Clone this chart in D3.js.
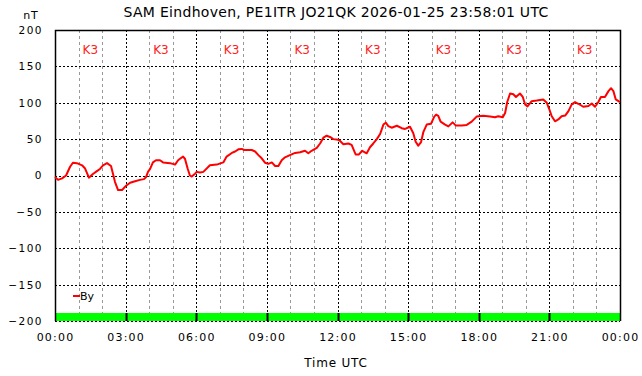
<!DOCTYPE html>
<html>
<head>
<meta charset="utf-8">
<script src="https://cdn.jsdelivr.net/npm/d3@7"></script>
<style>
  body { margin: 0; background: #fff; }
  text { font-family: "DejaVu Sans", sans-serif; }
</style>
</head>
<body>
<div id="chart-area"></div>
<script>
// Data: time in hours UTC, By in nT
const hours = [0, 0.13, 0.30, 0.47, 0.64, 0.76, 0.93, 1.15, 1.27, 1.44, 1.61, 1.78, 1.91, 2.04, 2.21, 2.38,
    2.55, 2.68, 2.85, 3.02, 3.19, 3.40, 3.61, 3.78, 3.87, 3.95, 4.04, 4.16, 4.29, 4.46, 4.59, 4.89,
    5.10, 5.23, 5.31, 5.44, 5.52, 5.64, 5.73, 5.81, 5.95, 6.02, 6.16, 6.30, 6.58, 6.87, 7.15, 7.29,
    7.51, 7.65, 7.79, 7.93, 8.04, 8.14, 8.36, 8.50, 8.64, 8.78, 8.92, 9.06, 9.21, 9.35, 9.49, 9.63,
    9.77, 9.98, 10.20, 10.41, 10.62, 10.76, 10.90, 11.12, 11.26, 11.40, 11.54, 11.68, 11.82, 12.03,
    12.11, 12.25, 12.46, 12.60, 12.77, 12.91, 13.05, 13.24, 13.38, 13.52, 13.67, 13.81, 13.95, 14.05,
    14.16, 14.30, 14.52, 14.73, 14.87, 15.08, 15.22, 15.32, 15.43, 15.55, 15.65, 15.79, 15.97, 16.11,
    16.19, 16.28, 16.38, 16.57, 16.71, 16.89, 17.03, 17.28, 17.49, 17.70, 17.91, 18.19, 18.48, 18.69,
    18.83, 19.02, 19.12, 19.21, 19.33, 19.47, 19.58, 19.75, 19.87, 19.97, 20.07, 20.25, 20.46, 20.74,
    20.89, 20.99, 21.10, 21.24, 21.38, 21.52, 21.67, 21.81, 21.95, 22.09, 22.23, 22.44, 22.66, 22.80,
    22.94, 23.08, 23.19, 23.36, 23.51, 23.62, 23.72, 23.82, 24.00];
const byValues = [-2, -6, -4, 0, 12, 17.5, 17, 14, 10, -3, 2, 6, 9, 14, 17, 13,
    -9, -20, -20, -14, -10, -8, -6, -5, -2, 5, 9, 18, 21, 21, 18, 17,
    15, 21, 23, 26, 23, 9, 0, -1.5, 2.5, 5, 4, 5, 14, 15, 18, 26,
    31, 33, 36, 36.5, 35, 35, 35, 33, 28, 23.6, 17.6, 16, 18, 13, 13, 21,
    25, 28, 31, 32, 34, 30.5, 34, 38, 44, 52, 54.7, 53, 50, 49,
    47.5, 43, 44, 42, 29, 29, 34, 30.5, 38.8, 44, 50, 57, 70, 72.6,
    68, 65.7, 68.4, 65, 64, 67, 58, 46.4, 41, 46, 60, 70, 71, 81,
    83.7, 82, 74, 70, 67.5, 73, 68.6, 68.6, 69.5, 74, 81, 82, 81, 80,
    81.5, 80, 86, 101, 112.7, 111.6, 108, 112.7, 108, 97.6, 95, 102.2, 103, 104.5,
    100, 91.7, 81.5, 74.5, 77, 81.5, 82.4, 88.5, 97.7, 100.9, 98.6, 94.5, 95.5, 99,
    94.5, 101, 108, 108, 116, 120, 116, 104.5, 101];

// K index per 3-hour period
const periodStarts = [0, 3, 6, 9, 12, 15, 18, 21];
const kIndex = [3, 3, 3, 3, 3, 3, 3, 3];

const xTicks = [0, 3, 6, 9, 12, 15, 18, 21, 24];
const yTicks = [-200, -150, -100, -50, 0, 50, 100, 150, 200];

const title = 'SAM Eindhoven, PE1ITR JO21QK 2026-01-25 23:58:01 UTC';

const margin = { left: 55, right: 22, top: 30, bottom: 55 };
const width = 642 - margin.left - margin.right;
const height = 376 - margin.top - margin.bottom;

const svg = d3.select('#chart-area')
    .append('svg')
    .attr('width', 642)
    .attr('height', 376);

const g = svg.append('g')
    .attr('transform', 'translate(' + margin.left + ', ' + margin.top + ')');

const x = d3.scaleLinear().domain([0, 24]).range([0, width]);
const y = d3.scaleLinear().domain([-200, 200]).range([height, 0]);

// minor hourly grid (gray dashes)
g.append('g')
    .selectAll('line')
    .data(d3.range(1, 24).filter((h) => h % 3 !== 0))
    .enter().append('line')
    .attr('x1', (d) => Math.round(x(d)) + 0.5)
    .attr('x2', (d) => Math.round(x(d)) + 0.5)
    .attr('y1', 0)
    .attr('y2', height)
    .attr('stroke', '#999')
    .attr('stroke-dasharray', '3,3');

// K index bars
g.append('g')
    .selectAll('rect')
    .data(periodStarts)
    .enter().append('rect')
    .attr('x', (d) => x(d))
    .attr('y', height - 8)
    .attr('width', (d) => x(d + 3) - x(d))
    .attr('height', 8)
    .attr('fill', '#00ff00');

g.append('g')
    .selectAll('line')
    .data(periodStarts.slice(1))
    .enter().append('line')
    .attr('x1', (d) => Math.round(x(d)) + 0.5)
    .attr('x2', (d) => Math.round(x(d)) + 0.5)
    .attr('y1', height - 8)
    .attr('y2', height)
    .attr('stroke', '#000')
    .attr('stroke-width', 2);

// major grid (black dots)
g.append('g')
    .selectAll('line')
    .data(xTicks.slice(1, -1))
    .enter().append('line')
    .attr('x1', (d) => Math.round(x(d)) + 0.5)
    .attr('x2', (d) => Math.round(x(d)) + 0.5)
    .attr('y1', 0)
    .attr('y2', height)
    .attr('stroke', '#000')
    .attr('stroke-dasharray', '2,2');

g.append('g')
    .selectAll('line')
    .data(yTicks.slice(0, -1))
    .enter().append('line')
    .attr('x1', 0)
    .attr('x2', width)
    .attr('y1', (d) => Math.round(y(d)) + 0.5)
    .attr('y2', (d) => Math.round(y(d)) + 0.5)
    .attr('stroke', '#000')
    .attr('stroke-dasharray', '2,2');

// frame
g.append('path')
    .attr('d', 'M0.5,' + height + 'V0.5H' + (width + 0.5) + 'V' + height)
    .attr('fill', 'none')
    .attr('stroke', '#000')
    .attr('stroke-width', 1.5);

// K labels
g.append('g')
    .selectAll('text')
    .data(periodStarts)
    .enter().append('text')
    .attr('x', (d) => x(d + 1.5))
    .attr('y', 24)
    .attr('text-anchor', 'middle')
    .attr('font-size', '12px')
    .attr('fill', '#ff2020')
    .text((d, i) => 'K' + kIndex[i]);

// By line
const line = d3.line()
    .x((d) => x(d))
    .y((d, i) => y(byValues[i]));

g.append('path')
    .datum(hours)
    .attr('d', line)
    .attr('fill', 'none')
    .attr('stroke', '#ff0000')
    .attr('stroke-width', 2)
    .attr('stroke-linejoin', 'round');

// axes
const xAxisCall = d3.axisBottom(x)
    .tickValues(xTicks)
    .tickSize(0)
    .tickPadding(12)
    .tickFormat((d) => String(d % 24).padStart(2, '0') + ':00');
const xAxis = g.append('g')
    .attr('transform', 'translate(0, ' + height + ')')
    .call(xAxisCall);
xAxis.select('.domain').remove();
xAxis.selectAll('text')
    .attr('font-family', 'DejaVu Sans')
    .attr('font-size', '11px')
    .attr('letter-spacing', '1.2px')
    .attr('fill', '#000');

const yAxisCall = d3.axisLeft(y)
    .tickValues(yTicks)
    .tickSize(0)
    .tickPadding(12);
const yAxis = g.append('g').call(yAxisCall);
yAxis.select('.domain').remove();
yAxis.selectAll('text')
    .attr('font-family', 'DejaVu Sans')
    .attr('font-size', '10.5px')
    .attr('letter-spacing', '1.5px')
    .attr('fill', '#000');

// legend
g.append('line')
    .attr('x1', 18).attr('x2', 25)
    .attr('y1', 266).attr('y2', 266)
    .attr('stroke', '#ff0000')
    .attr('stroke-width', 2);
g.append('text')
    .attr('x', 25)
    .attr('y', 270)
    .attr('font-size', '11px')
    .text('By');

// titles
svg.append('text')
    .attr('x', 336)
    .attr('y', 17)
    .attr('text-anchor', 'middle')
    .attr('font-size', '14px')
    .attr('letter-spacing', '0.3px')
    .text(title);

svg.append('text')
    .attr('x', 31)
    .attr('y', 19)
    .attr('text-anchor', 'middle')
    .attr('font-size', '11px')
    .attr('letter-spacing', '1px')
    .text('nT');

svg.append('text')
    .attr('x', 336)
    .attr('y', 367)
    .attr('text-anchor', 'middle')
    .attr('font-size', '12px')
    .attr('letter-spacing', '0.8px')
    .text('Time UTC');
</script>
</body>
</html>
